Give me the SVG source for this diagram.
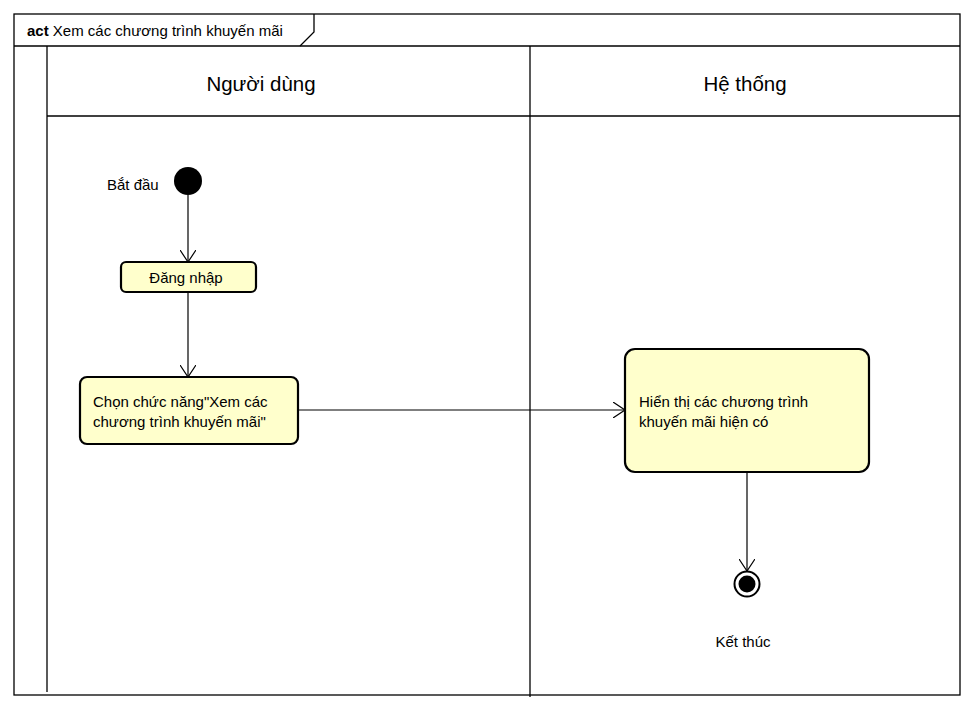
<svg xmlns="http://www.w3.org/2000/svg" width="973" height="710" viewBox="0 0 973 710">
<style>
text{font-family:"Liberation Sans",Arial,sans-serif;fill:#000}
.t{font-size:15px}
.h{font-size:20.5px}
.frame{fill:none;stroke:#000;stroke-width:1.3}
.act{fill:#ffffcc;stroke:#000;stroke-width:2.2}
.edge{fill:none;stroke:#000;stroke-width:1.2}
</style>
<defs>
<marker id="arr" viewBox="0 0 12 16" refX="12" refY="8" markerWidth="12" markerHeight="16" markerUnits="userSpaceOnUse" orient="auto">
<path d="M0,0 L12,8 L0,16" fill="none" stroke="#000" stroke-width="1.2"/>
</marker>
</defs>
<rect width="973" height="710" fill="#fff"/>
<g id="frame">
<rect class="frame" x="14" y="14" width="946" height="681"/>
<line class="frame" x1="14" y1="46" x2="960" y2="46"/>
<path class="frame" d="M314,14 L314,32 L300,46"/>
<text x="27" y="36" class="t"><tspan font-weight="bold">act</tspan> Xem các chương trình khuyến mãi</text>
</g>
<g id="lanes">
<line class="frame" x1="47" y1="46" x2="47" y2="692"/>
<line class="frame" x1="530" y1="46" x2="530" y2="697"/>
<line class="frame" x1="47" y1="116" x2="960" y2="116"/>
<text x="261" y="91" class="h" text-anchor="middle">Người dùng</text>
<text x="745" y="91" class="h" text-anchor="middle">Hệ thống</text>
</g>
<g id="start">
<circle cx="188" cy="181" r="14" fill="#000"/>
<text x="107" y="190" class="t">Bắt đầu</text>
</g>
<g id="dangnhap">
<rect class="act" x="121" y="262" width="135" height="30" rx="5"/>
<text x="186" y="283" class="t" text-anchor="middle">Đăng nhập</text>
</g>
<g id="chon">
<rect class="act" x="80" y="377" width="218" height="67" rx="7"/>
<text x="93" y="407" class="t">Chọn chức năng"Xem các</text>
<text x="93" y="427" class="t">chương trình khuyến mãi"</text>
</g>
<g id="hienthi">
<rect class="act" x="625" y="349" width="244" height="123" rx="10"/>
<text x="639" y="407" class="t">Hiển thị các chương trình</text>
<text x="639" y="427" class="t">khuyến mãi hiện có</text>
</g>
<g id="end">
<circle cx="747" cy="584" r="12.5" fill="#fff" stroke="#000" stroke-width="2"/>
<circle cx="747" cy="584" r="8.5" fill="#000"/>
<text x="743" y="647" class="t" text-anchor="middle">Kết thúc</text>
</g>
<g id="connectors">
<line class="edge" x1="188" y1="195" x2="188" y2="262" marker-end="url(#arr)"/>
<line class="edge" x1="188" y1="292" x2="188" y2="377" marker-end="url(#arr)"/>
<line class="edge" x1="298" y1="410" x2="625" y2="410" marker-end="url(#arr)"/>
<line class="edge" x1="747" y1="472" x2="747" y2="571" marker-end="url(#arr)"/>
</g>
</svg>
